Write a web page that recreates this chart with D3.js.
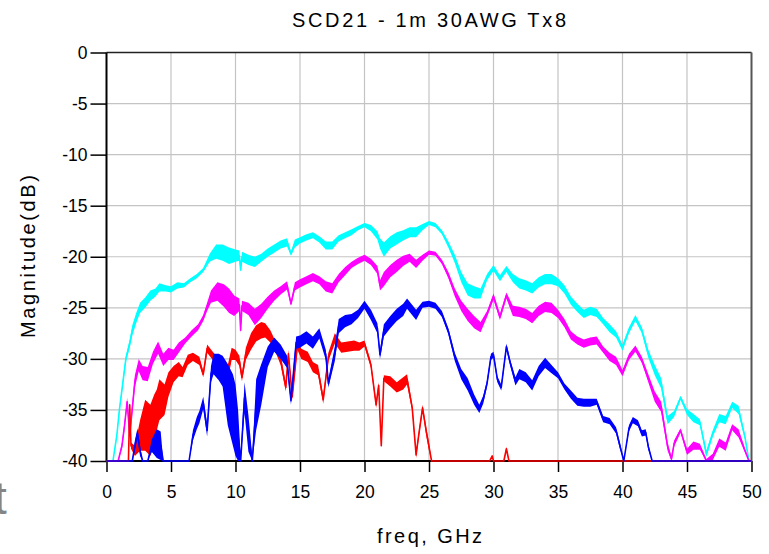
<!DOCTYPE html>
<html>
<head>
<meta charset="utf-8">
<script src="https://cdn.jsdelivr.net/npm/d3@7/dist/d3.min.js"></script>
<style>
  html, body { margin: 0; padding: 0; background: #fff; }
  svg { display: block; font-family: "Liberation Sans", Arial, sans-serif; }
</style>
</head>
<body>
<svg id="chart" width="769" height="554"></svg>
<script>
// ---- data: [freq GHz, magnitude dB, half band width dB] ----
const xTicks = [0, 5, 10, 15, 20, 25, 30, 35, 40, 45, 50];
const yTicks = [0, -5, -10, -15, -20, -25, -30, -35, -40];

const cyanData = [[0,-40,0],[0.5,-40,0],[0.8,-37.5,0.2],[1.0,-35,0.2],[1.3,-32,0.3],[1.5,-30,0.3],[1.8,-28.5,0.4],[2.0,-27.2,0.5],[2.3,-26,0.5],[2.6,-25,0.5],[3.0,-24.5,0.5],[3.4,-23.8,0.5],[3.8,-23.5,0.4],[4.1,-23,0.4],[4.6,-23.1,0.3],[5.0,-23.2,0.3],[5.5,-22.8,0.3],[6.0,-22.8,0.2],[6.5,-22.3,0.2],[7.0,-21.9,0.2],[7.5,-21.3,0.2],[8.0,-20.1,0.4],[8.5,-19.5,0.7],[9.0,-19.6,0.8],[9.5,-19.9,0.8],[10.0,-19.9,0.6],[10.3,-19.9,0.5],[10.4,-21.3,0.2],[10.5,-20,0.5],[11.0,-20.3,0.5],[11.5,-20.5,0.5],[12.0,-20.1,0.4],[12.5,-19.6,0.4],[13.0,-19.2,0.4],[13.5,-18.8,0.4],[14.0,-18.6,0.4],[14.3,-19.7,0.2],[14.6,-18.7,0.4],[15.0,-18.4,0.3],[15.5,-18.1,0.3],[16.0,-17.9,0.3],[16.5,-18.3,0.3],[17.0,-18.9,0.4],[17.5,-18.9,0.4],[18.0,-18.2,0.3],[18.5,-17.9,0.3],[19.0,-17.6,0.3],[19.5,-17.2,0.2],[20.0,-16.9,0.2],[20.5,-17.2,0.3],[21.0,-17.9,0.4],[21.2,-18.7,0.5],[21.5,-19.3,0.7],[22.0,-18.6,0.6],[22.5,-18.2,0.6],[23.0,-17.9,0.5],[23.5,-17.6,0.5],[24.0,-17.6,0.5],[24.5,-17.1,0.3],[25.0,-16.7,0.2],[25.5,-16.9,0.2],[26.0,-17.6,0.2],[26.5,-18.8,0.3],[27.0,-20.2,0.4],[27.5,-22,0.5],[28.0,-23.2,0.6],[28.5,-23.5,0.6],[29.0,-23.6,0.5],[29.5,-22,0.3],[30.0,-21.1,0.3],[30.5,-22.1,0.3],[31.0,-21.2,0.3],[31.5,-22.1,0.4],[32.0,-22.6,0.5],[32.5,-22.8,0.5],[33.0,-23.1,0.5],[33.5,-22.5,0.5],[34.0,-22.2,0.5],[34.5,-22.2,0.5],[35.0,-22.5,0.4],[35.5,-23.2,0.4],[36.0,-24.3,0.4],[36.5,-25,0.4],[37.0,-25.6,0.4],[37.5,-25.3,0.4],[38.0,-25.5,0.4],[38.5,-26.3,0.3],[39.0,-27,0.4],[39.5,-27.6,0.3],[40.0,-28.9,0.3],[40.5,-27.2,0.3],[41.0,-26,0.3],[41.5,-27.2,0.3],[42.0,-29.5,0.4],[42.5,-31.1,0.5],[43.0,-32.4,0.5],[43.5,-36,0.4],[44.0,-35.4,0.3],[44.5,-33.8,0.2],[45.0,-35.2,0.3],[45.5,-35.8,0.4],[46.0,-36.2,0.3],[46.5,-39.3,0.3],[47.0,-37.3,0.3],[47.5,-35.8,0.4],[48.0,-36,0.4],[48.5,-34.5,0.3],[49.0,-35,0.4],[49.5,-37.7,0.2],[49.8,-40,0],[50,-40,0]];

const magentaData = [[0,-40,0],[0.9,-40,0],[1.2,-38.5,0.3],[1.4,-36.5,0.4],[1.6,-34.2,0.4],[1.8,-37.5,0.4],[2.2,-32.2,0.6],[2.5,-30.6,0.6],[2.8,-31.4,0.7],[3.2,-31.5,0.7],[3.6,-29.9,0.6],[4.0,-28.9,0.6],[4.4,-30.1,0.6],[4.8,-29.5,0.6],[5.2,-29.6,0.5],[5.6,-28.9,0.5],[6.1,-28.2,0.3],[6.6,-27.5,0.3],[7.1,-26.9,0.3],[7.5,-26,0.3],[7.8,-24.9,0.4],[8.1,-23.9,0.6],[8.6,-23.4,0.9],[9.1,-23.8,1.1],[9.5,-24.3,1.2],[9.9,-24.8,1.0],[10.3,-24.7,0.6],[10.4,-27.2,0.3],[10.5,-24.8,0.5],[11.0,-25.1,0.6],[11.5,-25.9,0.8],[12.0,-25.3,0.7],[12.5,-24.5,0.6],[13.0,-23.8,0.5],[13.5,-23.3,0.4],[14.0,-22.8,0.4],[14.3,-24.6,0.2],[14.6,-22.9,0.4],[15.0,-22.6,0.4],[15.5,-22.3,0.4],[16.0,-22,0.4],[16.5,-22.3,0.4],[17.0,-22.9,0.5],[17.5,-23.1,0.5],[18.0,-22.1,0.4],[18.5,-21.4,0.4],[19.0,-20.8,0.3],[19.5,-20.4,0.3],[20.0,-20.1,0.3],[20.5,-20.5,0.3],[21.0,-21.3,0.4],[21.2,-22.8,0.5],[21.5,-22.2,0.7],[22.0,-21.4,0.6],[22.5,-20.9,0.6],[23.0,-20.4,0.5],[23.5,-20.1,0.4],[24.0,-20.7,0.4],[24.5,-20.1,0.3],[25.0,-19.6,0.2],[25.5,-19.7,0.2],[26.0,-20.5,0.2],[26.5,-21.8,0.3],[27.0,-23.5,0.4],[27.5,-24.8,0.5],[28.0,-25.7,0.6],[28.5,-26.4,0.6],[29.0,-26.9,0.5],[29.5,-25.6,0.3],[30.0,-23.9,0.3],[30.5,-25.9,0.3],[31.0,-23.8,0.3],[31.5,-25.3,0.5],[32.0,-25.4,0.5],[32.5,-25.6,0.5],[33.0,-26,0.5],[33.5,-25.3,0.5],[34.0,-24.9,0.5],[34.5,-25,0.5],[35.0,-25.6,0.4],[35.5,-26.5,0.4],[36.0,-27.7,0.4],[36.5,-28.2,0.4],[37.0,-28.5,0.4],[37.5,-28.3,0.4],[38.0,-28.2,0.4],[38.5,-29.1,0.3],[39.0,-29.8,0.4],[39.5,-30.2,0.4],[40.0,-31.4,0.3],[40.5,-29.8,0.3],[41.0,-29,0.3],[41.5,-30.1,0.3],[42.0,-31.9,0.4],[42.5,-33.7,0.5],[43.0,-34.7,0.5],[43.5,-38.6,0.4],[43.8,-39.8,0.2],[44.0,-38.3,0.3],[44.5,-37,0.2],[45.0,-39.1,0.3],[45.5,-38.5,0.4],[46.0,-38.6,0.3],[46.5,-40,0.2],[47.0,-39.6,0.3],[47.5,-38.2,0.4],[48.0,-38.6,0.4],[48.5,-36.7,0.3],[49.0,-37.3,0.4],[49.5,-39,0.2],[49.8,-40,0],[50,-40,0]];

const redData = [[0,-40,0],[1.7,-40,0],[1.8,-34.5,0.3],[1.9,-38.5,0.3],[2.2,-39,0.5],[2.6,-37.5,1.5],[3.0,-36.5,2.5],[3.4,-37,2.5],[3.7,-36,2.5],[3.9,-35,2],[4.1,-34,2],[4.5,-34,1.5],[4.8,-32.5,1.2],[5.2,-31.5,0.8],[5.6,-31,0.7],[5.9,-31.3,0.5],[6.3,-30.1,0.5],[6.7,-29.8,0.4],[7.2,-30.2,0.4],[7.5,-31.5,0.3],[7.8,-29,0.4],[8.3,-29.8,0.4],[8.7,-30.5,0.5],[9.0,-31.5,0.6],[9.3,-32,0.8],[9.7,-29.5,0.6],[10.0,-29.6,0.5],[10.3,-30.2,0.5],[10.5,-31.8,0.4],[10.8,-29.5,0.6],[11.2,-28.3,0.8],[11.6,-27.5,0.8],[12.0,-27.2,0.8],[12.3,-27.2,0.7],[12.7,-27.8,0.6],[13.0,-28.5,0.5],[13.5,-30.1,0.5],[13.9,-32.8,0.4],[14.1,-29.5,0.4],[14.4,-33.7,0.3],[14.8,-28.6,0.5],[15.1,-29.5,0.5],[15.6,-29.8,0.5],[16.0,-30.8,0.5],[16.4,-31.1,0.5],[16.8,-34,0.4],[17.2,-29.8,0.4],[17.7,-28,0.5],[18.2,-28.9,0.5],[18.7,-28.8,0.5],[19.2,-28.7,0.5],[19.6,-28.8,0.4],[20.0,-28.5,0.3],[20.5,-30.6,0.3],[20.9,-34.5,0.3],[21.1,-32.6,0.3],[21.3,-38.5,0.2],[21.5,-31.9,0.3],[22.0,-32.2,0.5],[22.5,-32.8,0.5],[23.0,-32.4,0.6],[23.3,-32.0,0.5],[23.7,-34.8,0.3],[24.0,-39.4,0.3],[24.2,-37.5,0.3],[24.5,-34.8,0.3],[24.8,-37.2,0.4],[25.0,-38.6,0.4],[25.2,-40,0],[29.7,-40,0],[29.9,-39.5,0],[30.0,-40,0],[30.8,-40,0],[31.0,-38.8,0.2],[31.2,-40,0],[50,-40,0]];

const blueData = [[0,-40,0],[2.0,-40,0],[2.2,-38.5,0.5],[2.4,-37.3,0.5],[2.6,-39,0.5],[2.8,-40,0],[3.2,-40,0],[3.5,-38.5,0.6],[3.9,-38.3,1.4],[4.2,-38.5,1.4],[4.4,-40,0],[6.4,-40,0],[6.7,-37.5,0.5],[7.0,-36.3,0.6],[7.2,-35.7,0.6],[7.5,-34.3,0.6],[7.8,-37,0.6],[8.1,-31.5,0.8],[8.3,-30.5,1.0],[8.7,-30.8,1.3],[9.0,-31.2,1.5],[9.4,-33.5,3],[9.8,-35,3.5],[10.0,-36,3.5],[10.2,-37.5,2.5],[10.4,-40,0.5],[10.7,-33.8,1.5],[11.0,-37.3,1.8],[11.3,-40,0.5],[11.6,-34.5,2.5],[12.0,-32.5,2],[12.5,-29.8,1.0],[13.0,-28.6,0.7],[13.5,-29.3,0.7],[14.0,-30.3,0.6],[14.3,-34.1,0.4],[14.7,-28.4,0.6],[15.0,-28.3,0.6],[15.5,-27.9,0.6],[16.0,-28.4,0.6],[16.5,-27.5,0.5],[17.0,-29.6,0.5],[17.2,-32.4,0.4],[17.7,-29.5,0.7],[18.0,-26.8,0.7],[18.5,-26.3,0.6],[19.0,-26.1,0.5],[19.5,-25.6,0.4],[20.0,-24.7,0.4],[20.5,-25.7,0.5],[21.0,-27,0.5],[21.2,-29.6,0.4],[21.5,-27.2,0.6],[22.0,-26.4,0.6],[22.5,-25.7,0.6],[23.0,-25.2,0.6],[23.3,-24.6,0.5],[24.0,-25.7,0.5],[24.5,-24.7,0.3],[25.0,-24.6,0.3],[25.5,-24.8,0.3],[26.0,-25.6,0.3],[26.5,-27.3,0.3],[27.0,-29.8,0.4],[27.5,-31.5,0.5],[28.0,-32.5,0.6],[28.5,-34,0.5],[28.9,-34.9,0.4],[29.2,-34,0.4],[29.5,-32.4,0.3],[29.8,-29.8,0.3],[30.0,-29.6,0.3],[30.3,-32,0.3],[30.6,-32.8,0.3],[31.0,-28.8,0.3],[31.3,-30.4,0.3],[31.7,-32.2,0.4],[32.0,-31.5,0.5],[32.5,-31.8,0.5],[33.0,-32.6,0.5],[33.5,-31.2,0.5],[34.0,-30.4,0.5],[34.5,-31,0.4],[35.0,-31.6,0.3],[35.5,-32.7,0.3],[36.0,-33.5,0.4],[36.5,-34.2,0.4],[37.0,-34.3,0.4],[37.5,-34.3,0.4],[38.0,-34.2,0.3],[38.5,-35.9,0.3],[39.0,-36.1,0.3],[39.5,-37,0.3],[39.8,-38.5,0.3],[40.1,-40,0],[40.5,-36.8,0.3],[40.8,-36,0.3],[41.2,-36.3,0.3],[41.5,-37.3,0.3],[41.8,-37.2,0.3],[42.0,-38.6,0.3],[42.3,-40,0],[50,-40,0]];

const seriesList = [
  { name: "cyan", color: "#00ffff", data: cyanData },
  { name: "magenta", color: "#ff00ff", data: magentaData },
  { name: "red", color: "#ff0000", data: redData },
  { name: "blue", color: "#0000ff", data: blueData }
];

const titleText = "SCD21 - 1m 30AWG Tx8";
const xLabel = "freq, GHz";
const yLabel = "Magnitude(dB)";

// ---- layout ----
const svg = d3.select("#chart");
const pL = 106.5, pR = 751.5, pT = 52.5, pB = 461;

const x = d3.scaleLinear().domain([0, 50]).range([pL, pR]);
const y = d3.scaleLinear().domain([-40, 0]).range([pB, pT]).clamp(true);

// grid
const grid = svg.append("g").attr("stroke", "#c4c4c4").attr("stroke-width", 1.2);
grid.selectAll("line.gx").data(xTicks.slice(1, -1)).join("line")
  .attr("x1", d => x(d)).attr("x2", d => x(d)).attr("y1", pT).attr("y2", pB);
grid.selectAll("line.gy").data(yTicks.slice(1, -1)).join("line")
  .attr("x1", pL).attr("x2", pR).attr("y1", d => y(d)).attr("y2", d => y(d));

// frame: top & right
svg.append("line").attr("x1", pL).attr("x2", pR).attr("y1", pT).attr("y2", pT)
  .attr("stroke", "#222").attr("stroke-width", 1.5);
svg.append("line").attr("x1", pR).attr("x2", pR).attr("y1", pT).attr("y2", pB)
  .attr("stroke", "#555").attr("stroke-width", 2);

// axes
const fmt = d => String(d);
const xAxis = d3.axisBottom(x).tickValues(xTicks).tickSize(11).tickPadding(14).tickFormat(fmt);
const yAxis = d3.axisLeft(y).tickValues(yTicks).tickSize(16).tickPadding(3).tickFormat(fmt);

const gx = svg.append("g").attr("transform", `translate(0,${pB})`).call(xAxis);
const gy = svg.append("g").attr("transform", `translate(${pL},0)`).call(yAxis);
[gx, gy].forEach(g => {
  g.select(".domain").attr("stroke", "#000").attr("stroke-width", 2);
  g.selectAll(".tick line").attr("stroke", "#000").attr("stroke-width", 1.5);
  g.selectAll(".tick text").attr("fill", "#000").style("font-size", "17.5px")
    .style("font-family", "'Liberation Sans', Arial, sans-serif");
});
gy.select(".domain").attr("d", `M0,${pT}V${pB}`);
gx.select(".domain").attr("d", `M${pL},0H${pR}`);

// series: band area + centre line
svg.append("clipPath").attr("id", "plotclip").append("rect")
  .attr("x", pL).attr("y", pT - 2).attr("width", pR - pL + 1).attr("height", pB - pT + 4);

const plot = svg.append("g").attr("clip-path", "url(#plotclip)");
const area = d3.area()
  .x(d => x(d[0]))
  .y0(d => y(d[1] - d[2]))
  .y1(d => y(d[1] + d[2]));
const line = d3.line().x(d => x(d[0])).y(d => y(d[1]));

seriesList.forEach(s => {
  const g = plot.append("g");
  g.append("path").datum(s.data).attr("d", area).attr("fill", s.color).attr("stroke", "none");
  g.append("path").datum(s.data).attr("d", line).attr("fill", "none")
    .attr("stroke", s.color).attr("stroke-width", 1.6).attr("stroke-linejoin", "round");
});

// texts
svg.append("text").attr("x", 292).attr("y", 27)
  .attr("textLength", 274).attr("lengthAdjust", "spacing")
  .style("font-size", "20px").attr("fill", "#000").text(titleText);

svg.append("text").attr("x", 377).attr("y", 543)
  .attr("textLength", 105).attr("lengthAdjust", "spacing")
  .style("font-size", "20px").attr("fill", "#000").text(xLabel);

svg.append("text").attr("transform", "translate(35,338) rotate(-90)")
  .attr("textLength", 163).attr("lengthAdjust", "spacing")
  .style("font-size", "20px").attr("fill", "#000").text(yLabel);

// partial gray glyph at bottom-left edge (cut off in the reference too)
svg.append("text").attr("x", -6).attr("y", 514)
  .style("font-size", "46px").attr("fill", "#858585").text("t");
</script>
</body>
</html>
